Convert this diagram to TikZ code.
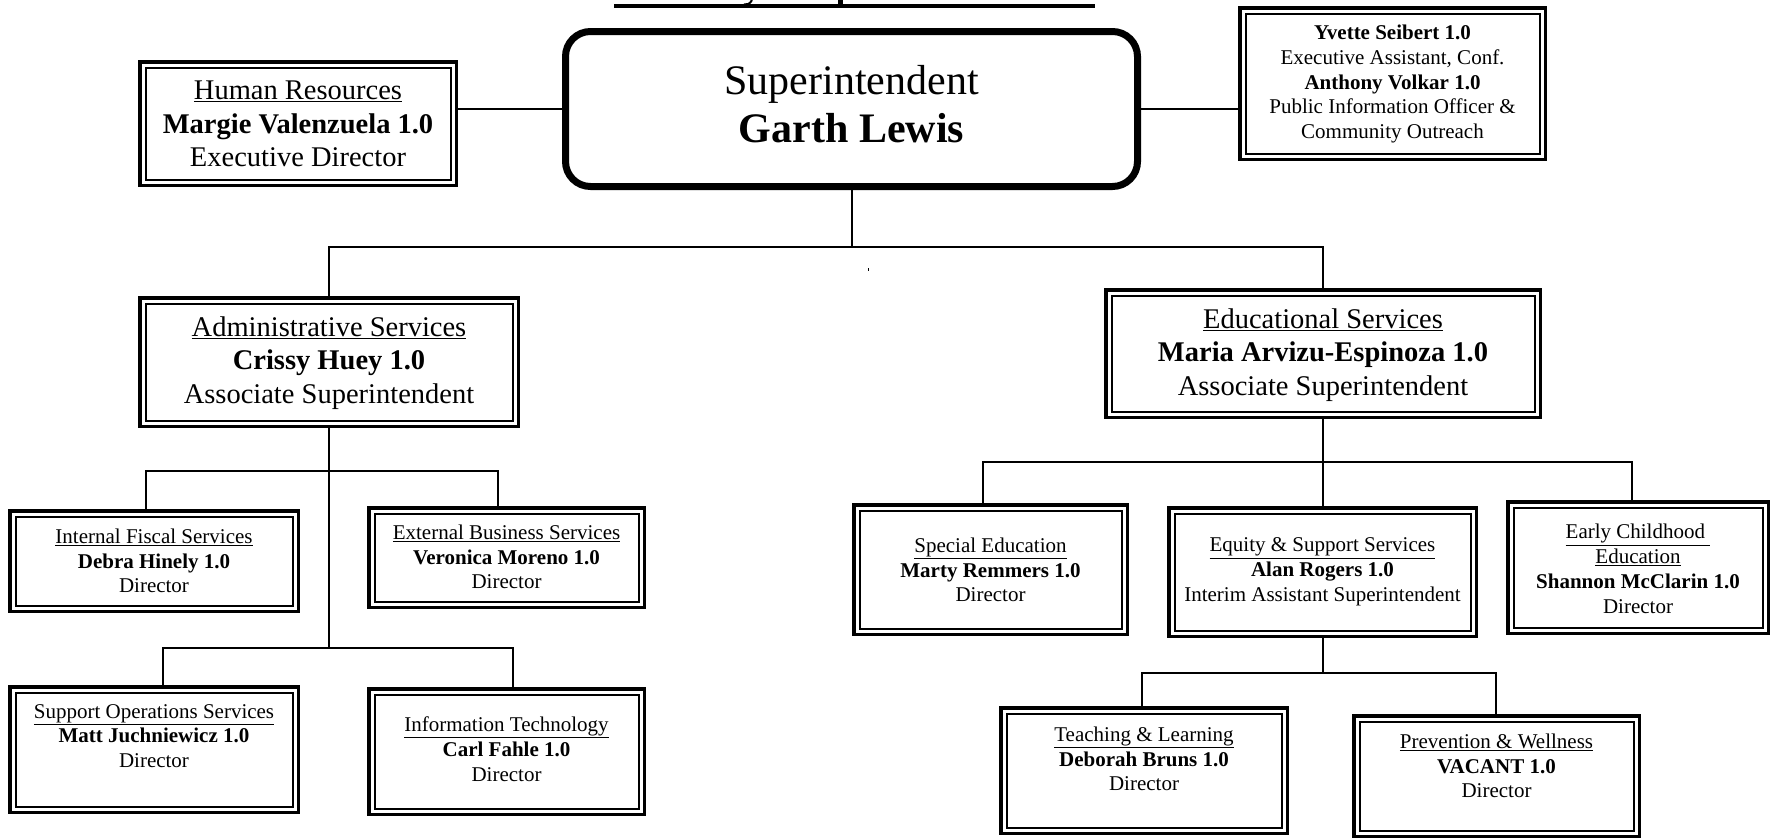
\documentclass[tikz,border=0pt]{standalone}
\usepackage{fontspec}
\setmainfont{Liberation Serif}
\usetikzlibrary{calc}
\newcommand\orgbox[5]{%
  \pgfmathsetmacro\obW{#4-(#2)-3.5}%
  \pgfmathsetmacro\obH{#5-(#3)-3.5}%
  \node[dbox, minimum width=\obW pt, minimum height=\obH pt] (#1) at ({(#2+#4)/2},{(#3+#5)/2}) {};%
}
\tikzset{
  dbox/.style={draw, line width=3.5pt, inner sep=0pt,
    path picture={\draw[line width=2pt] ([shift={(5.75pt,5.75pt)}]path picture bounding box.south west) rectangle ([shift={(-5.75pt,-5.75pt)}]path picture bounding box.north east);}},
  suptxt/.style={align=center, inner sep=0pt, font=\fontsize{42}{48.5}\selectfont},
  bigtxt/.style={align=center, inner sep=0pt, font=\fontsize{28.5}{33.5}\selectfont},
  smtxt/.style={align=center, inner sep=0pt, font=\fontsize{21}{24.8}\selectfont},
  conn/.style={line width=2pt},
}
\begin{document}
\begin{tikzpicture}[x=1pt,y=-1pt]
\useasboundingbox (0,0) rectangle (1773,839);

% title remnant
\coordinate (title-a) at (614,6);
\coordinate (title-b) at (1095,6);
\draw[line width=4pt] (title-a) -- (title-b);
\fill (838,0) rectangle (843,6);
\fill (834,3.5) rectangle (847,6);
\draw[line width=2pt] (752,0) .. controls (750,4) and (747,5) .. (744,4.5);

% superintendent
\node[draw, line width=7pt, rounded corners=25pt, minimum width=572pt, minimum height=155pt, inner sep=0pt] (sup) at (851.5,109) {};
\node[suptxt] (sup-t) at (851.5,104) {Superintendent\\\textbf{Garth Lewis}};

% boxes
\orgbox{hr}{138}{60}{458}{187}
\orgbox{exe}{1238}{6}{1547}{161}
\orgbox{adm}{138}{296}{520}{428}
\orgbox{edu}{1104}{288}{1542}{419}
\orgbox{ifs}{8}{509}{300}{613}
\orgbox{ebs}{367}{506}{646}{609}
\orgbox{sos}{8}{685}{300}{814}
\orgbox{it}{367}{687}{646}{816}
\orgbox{sped}{852}{503}{1129}{636}
\orgbox{eq}{1167}{506}{1478}{638}
\orgbox{ec}{1506}{500}{1770}{635}
\orgbox{teach}{999}{706}{1289}{835}
\orgbox{pw}{1352}{714}{1641}{838}

% texts
\node[bigtxt] (hr-t) at (298,124) {\underline{Human Resources}\\\textbf{Margie Valenzuela 1.0}\\Executive Director};
\node[smtxt] (exe-t) at (1392.5,84) {\textbf{Yvette Seibert 1.0}\\Executive Assistant, Conf.\\\textbf{Anthony Volkar 1.0}\\Public Information Officer \&\\Community Outreach};
\node[bigtxt] (adm-t) at (329,363) {\underline{Administrative Services}\\\textbf{Crissy Huey 1.0}\\Associate Superintendent};
\node[bigtxt] (edu-t) at (1323,355) {\underline{Educational Services}\\\textbf{Maria Arvizu-Espinoza 1.0}\\Associate Superintendent};
\node[smtxt] (ifs-t) at (154,561) {\underline{Internal Fiscal Services}\\\textbf{Debra Hinely 1.0}\\Director};
\node[smtxt] (ebs-t) at (506.5,557) {\underline{External Business Services}\\\textbf{Veronica Moreno 1.0}\\Director};
\node[smtxt] (sos-t) at (154,736) {\underline{Support Operations Services}\\\textbf{Matt Juchniewicz 1.0}\\Director};
\node[smtxt] (it-t) at (506.5,749) {\underline{Information Technology}\\\textbf{Carl Fahle 1.0}\\Director};
\node[smtxt] (sped-t) at (990.5,570) {\underline{Special Education}\\\textbf{Marty Remmers 1.0}\\Director};
\node[smtxt] (eq-t) at (1322.5,572) {\underline{Equity \& Support Services}\\\textbf{Alan Rogers 1.0}\\Interim Assistant Superintendent};
\node[smtxt] (ec-t) at (1638,569) {\underline{Early Childhood\ }\\\underline{Education}\\\textbf{Shannon McClarin 1.0}\\Director};
\node[smtxt] (teach-t) at (1144,759) {\underline{Teaching \& Learning}\\\textbf{Deborah Bruns 1.0}\\Director};
\node[smtxt] (pw-t) at (1496.5,766) {\underline{Prevention \& Wellness}\\\textbf{VACANT 1.0}\\Director};

% connectors
\draw[conn] (sup.west) -- (sup.west -| hr.east);
\draw[conn] (sup.east) -- (sup.east -| exe.west);
\coordinate (bus1) at (851,247);
\draw[conn] (sup.south) -- (sup.south |- bus1);
\draw[conn] (adm.north) |- (bus1) -| (edu.north);
\fill (867.5,267.5) rectangle (868.5,270.5);

\coordinate (abus1) at (329,471);
\coordinate (abus2) at (329,648);
\coordinate (ifs-d) at (146,471);
\coordinate (ebs-d) at (498,471);
\coordinate (sos-d) at (163,648);
\coordinate (it-d) at (513,648);
\draw[conn] (adm.south) -- (abus2);
\draw[conn] (ifs-d |- ifs.north) -- (ifs-d) -- (ebs-d) -- (ebs-d |- ebs.north);
\draw[conn] (sos-d |- sos.north) -- (sos-d) -- (it-d) -- (it-d |- it.north);

\coordinate (ebus) at (1322,462);
\coordinate (sped-d) at (983,462);
\coordinate (ec-d) at (1632,462);
\draw[conn] (edu.south) -- (edu.south |- ebus);
\draw[conn] (sped-d |- sped.north) -- (sped-d) -- (ec-d) -- (ec-d |- ec.north);
\draw[conn] (eq.north) -- (eq.north |- ebus);

\coordinate (qbus) at (1322,673);
\coordinate (teach-d) at (1142,673);
\coordinate (pw-d) at (1496,673);
\draw[conn] (eq.south) -- (eq.south |- qbus);
\draw[conn] (teach-d |- teach.north) -- (teach-d) -- (pw-d) -- (pw-d |- pw.north);
\end{tikzpicture}
\end{document}
